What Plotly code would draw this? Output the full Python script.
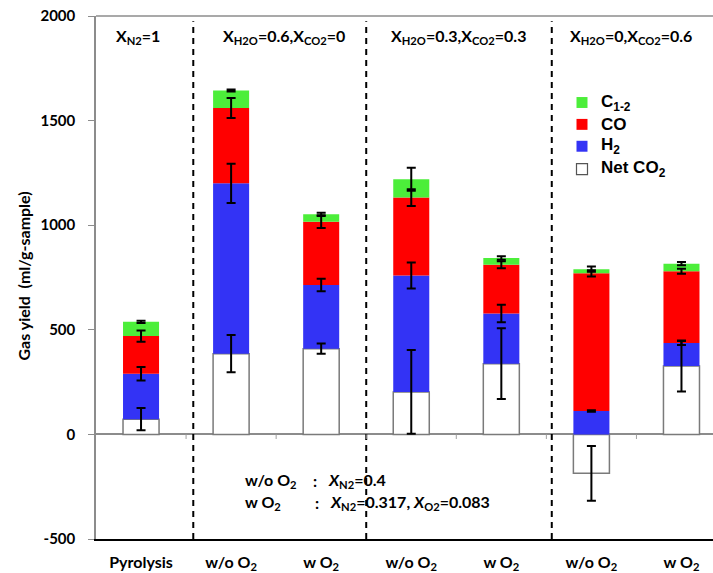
import plotly.graph_objects as go

# Sample conditions (x-axis categories)
categories = ["Pyrolysis", "w/o O<sub>2</sub>", "w O<sub>2</sub>", "w/o O<sub>2</sub>",
              "w O<sub>2</sub>", "w/o O<sub>2</sub>", "w O<sub>2</sub>"]

# Gas yields per component (ml/g-sample), stacked bottom to top
net_co2 = [73, 386, 410, 203, 338, -186, 327]
h2 = [217, 814, 304, 557, 240, 112, 110]
co = [180, 360, 303, 372, 233, 658, 343]
c12 = [68, 84, 35, 88, 32, 20, 36]

# Error bars (± ml/g-sample) drawn at each segment top
net_co2_err = [53, 89, 25, 200, 169, 131, 122]
h2_err = [32, 94, 30, 62, 42, 4, 10]
co_err = [27, 48, 30, 40, 17, 15, 12]
c12_err = [5, 5, 8, 55, 8, 12, 8]

# Group headers and separator positions (in category units)
group_labels = ["X<sub>N2</sub>=1", "X<sub>H2O</sub>=0.6,X<sub>CO2</sub>=0",
                "X<sub>H2O</sub>=0.3,X<sub>CO2</sub>=0.3", "X<sub>H2O</sub>=0,X<sub>CO2</sub>=0.6"]
group_label_x = [-0.03, 1.59, 3.52, 5.44]
separators = [0.58, 2.5, 4.56]

# Series styling: (name, values, errors, fill, outline)
series = [
    ("Net CO<sub>2</sub>", net_co2, net_co2_err, "white", "#7a7a7a"),
    ("H<sub>2</sub>", h2, h2_err, "#3333f5", None),
    ("CO", co, co_err, "#ff0000", None),
    ("C<sub>1-2</sub>", c12, c12_err, "#4cee3a", None),
]

xs = list(range(len(categories)))
BAR_W = 0.4

fig = go.Figure()
for name, vals, _, fill, outline in series:
    fig.add_trace(go.Bar(x=xs, y=vals, width=BAR_W, name=name, showlegend=False,
                         marker=dict(color=fill,
                                     line=dict(color=outline or fill,
                                               width=1.5 if outline else 0))))

# Error bars sit at the end of each stacked segment; drawn last so they stay on top
pos_base = [max(v, 0) for v in net_co2]
tops = []
running = pos_base[:]
tops.append(list(net_co2))
for vals in (h2, co, c12):
    running = [r + v for r, v in zip(running, vals)]
    tops.append(running[:])
for (name, _, errs, _, _), ytop in zip(series, tops):
    fig.add_trace(go.Scatter(x=xs, y=ytop, mode="markers", showlegend=False,
                             marker=dict(size=1, opacity=0), hoverinfo="skip",
                             error_y=dict(type="data", array=errs, color="black",
                                          thickness=2, width=4.5)))

shapes = []
# top border
shapes.append(dict(type="line", xref="paper", yref="paper", x0=0, x1=1, y0=1, y1=1,
                   line=dict(color="#8c8c8c", width=1.5)))
# dashed group separators
for sx in separators:
    shapes.append(dict(type="line", xref="x", yref="paper", x0=sx, x1=sx, y0=0, y1=0.99,
                       line=dict(color="black", width=2, dash="6px,5px")))
# small ticks on the zero line between categories
for i in range(len(categories)):
    bx = i + 0.5
    shapes.append(dict(type="line", xref="x", yref="y", x0=bx, x1=bx, y0=0, y1=-22,
                       line=dict(color="#a0a0a0", width=1)))


def px_x(p):
    return (p - 96) / 617


def px_y(p):
    return (542 - p) / 526


annotations = []
for lbl, gx in zip(group_labels, group_label_x):
    annotations.append(dict(text="<b>" + lbl + "</b>", x=gx, y=1900, xref="x", yref="y",
                            showarrow=False, xanchor="center", yanchor="middle",
                            font=dict(family="Lato", size=16, color="black")))

# legend (top to bottom)
legend_rows = list(reversed(series))
legend_y = [103, 125, 147, 170]
for (name, _, _, fill, outline), ly in zip(legend_rows, legend_y):
    half = 5.5
    shapes.append(dict(type="rect", xref="paper", yref="paper",
                       x0=px_x(582 - half), x1=px_x(582 + half),
                       y0=px_y(ly + half), y1=px_y(ly - half),
                       fillcolor=fill,
                       line=dict(color="#555555" if outline else fill, width=1.2 if outline else 0)))
    annotations.append(dict(text="<b>" + name + "</b>", x=px_x(599), y=px_y(ly),
                            xref="paper", yref="paper", xanchor="left", yanchor="middle",
                            showarrow=False,
                            font=dict(family="Liberation Sans", size=17, color="black")))

note_font = dict(family="Lato", size=16, color="black")
note_rows = [
    ("w/o O<sub>2</sub>", ":", "<i>X</i><sub>N2</sub>=0.4", 483, 311, 326),
    ("w O<sub>2</sub>", ":", "<i>X</i><sub>N2</sub>=0.317, <i>X</i><sub>O2</sub>=0.083", 505, 313, 328),
]
for left, colon, right, py, cx, rx in note_rows:
    yv = (437 - py) * 500 / 105
    for txt, px in ((left, 243), (colon, cx), (right, rx)):
        annotations.append(dict(text="<b>" + txt + "</b>", x=(px - 141) / 90, y=yv,
                                xref="x", yref="y", showarrow=False, xanchor="left",
                                yanchor="middle", font=note_font))

# y-axis title
annotations.append(dict(text="<b>Gas yield  (ml/g-sample)</b>", textangle=-90,
                        xref="paper", yref="paper", x=px_x(24), y=px_y(278),
                        xanchor="center", yanchor="middle", showarrow=False,
                        font=dict(family="Lato", size=16, color="black")))

fig.update_layout(
    width=713, height=573,
    margin=dict(l=96, r=0, t=16, b=31),
    paper_bgcolor="white", plot_bgcolor="white",
    barmode="relative",
    showlegend=False,
    xaxis=dict(range=[-0.5, 6.35], tickvals=xs, ticktext=["<b>" + c + "</b>" for c in categories],
               showline=True, linecolor="black", linewidth=1.5, ticks="outside", ticklen=8,
               tickcolor="rgba(0,0,0,0)", showgrid=False, zeroline=False,
               tickfont=dict(family="Lato", size=16, color="black")),
    yaxis=dict(range=[-500, 2000], tickvals=[-500, 0, 500, 1000, 1500, 2000],
               ticktext=["<b>%d</b>" % v for v in [-500, 0, 500, 1000, 1500, 2000]],
               showline=True, linecolor="#8c8c8c", linewidth=1.5, ticks="outside", ticklen=6,
               tickcolor="#8c8c8c", ticklabelstandoff=10, showgrid=False,
               zeroline=True, zerolinecolor="#8c8c8c", zerolinewidth=1.5,
               tickfont=dict(family="Lato", size=15, color="black")),
    shapes=shapes,
    annotations=annotations,
)

fig.write_html("out.html")
